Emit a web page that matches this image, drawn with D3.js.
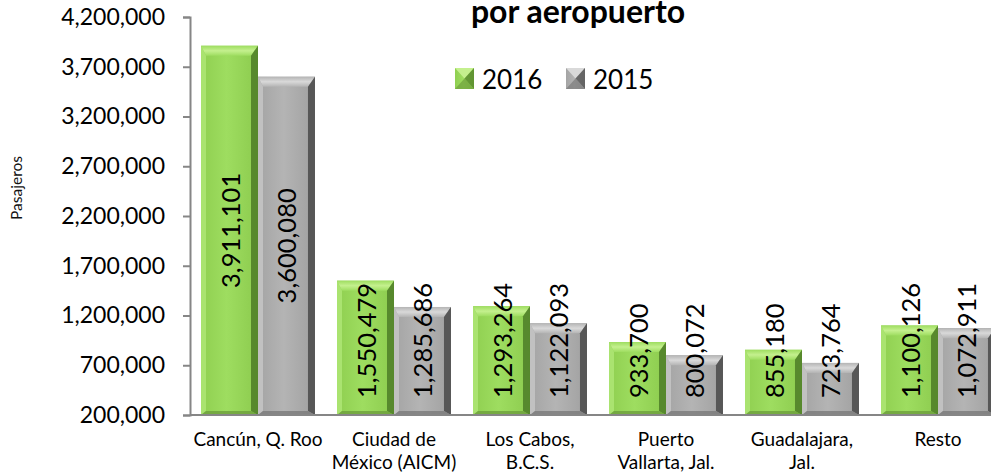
<!DOCTYPE html>
<html>
<head>
<meta charset="utf-8">
<script src="https://cdn.jsdelivr.net/npm/d3@7"></script>
<style>
  body { margin: 0; background: #fff; }
  svg { display: block; font-family: Lato, "Open Sans", sans-serif; }
</style>
</head>
<body>
<div id="chart"></div>
<script>
// datos
const categorias = ["Cancún, Q. Roo", "Ciudad de\nMéxico (AICM)", "Los Cabos,\nB.C.S.", "Puerto\nVallarta, Jal.", "Guadalajara,\nJal.", "Resto"]
const series = ["2016", "2015"]
const valores2016 = [3911101, 1550479, 1293264, 933700, 855180, 1100126]
const valores2015 = [3600080, 1285686, 1122093, 800072, 723764, 1072911]
const ticks = [200000, 700000, 1200000, 1700000, 2200000, 2700000, 3200000, 3700000, 4200000]

const width = 991
const height = 475
const margin = { top: 17, bottom: 60, left: 190, right: -15 }

const svg = d3.select("div#chart").append("svg").attr("width", width).attr("height", height)
const defs = svg.append("defs")

const estilos = {
    "2016": { face: ["#8fcf50", "#9edd60", "#8ccb4e"], top: "#c4f08e", left: "#b0e778", right: "#4e7d27", bottom: "#6d9f3c" },
    "2015": { face: ["#a4a4a4", "#b4b4b4", "#a0a0a0"], top: "#d9d9d9", left: "#c8c8c8", right: "#4a4a4a", bottom: "#7a7a7a" }
}
series.forEach(s => {
    const g = defs.append("linearGradient").attr("id", "face" + s).attr("x1", 0).attr("x2", 1).attr("y1", 0).attr("y2", 0)
    g.append("stop").attr("offset", "0%").attr("stop-color", estilos[s].face[0])
    g.append("stop").attr("offset", "45%").attr("stop-color", estilos[s].face[1])
    g.append("stop").attr("offset", "100%").attr("stop-color", estilos[s].face[2])
    const t = defs.append("linearGradient").attr("id", "top" + s).attr("x1", 0).attr("x2", 0).attr("y1", 0).attr("y2", 1)
    t.append("stop").attr("offset", "0%").attr("stop-color", estilos[s].face[1])
    t.append("stop").attr("offset", "50%").attr("stop-color", estilos[s].top)
    t.append("stop").attr("offset", "100%").attr("stop-color", estilos[s].face[1])
})

// escalas
const x = d3.scaleBand().domain(categorias).range([margin.left, width - margin.right]).paddingInner(0.162).paddingOuter(0.081)
const xs = d3.scaleBand().domain(series).range([0, x.bandwidth()])
const y = d3.scaleLinear().domain([200000, 4200000]).range([height - margin.bottom, margin.top])

const datos = []
categorias.forEach((c, i) => {
    datos.push({ cat: c, serie: "2016", valor: valores2016[i] })
    datos.push({ cat: c, serie: "2015", valor: valores2015[i] })
})

// barras con bisel
const barras = svg.append("g").selectAll("g").data(datos).join("g")
    .attr("transform", d => `translate(${x(d.cat) + xs(d.serie)}, ${y(d.valor)})`)

barras.each(function(d) {
    const g = d3.select(this)
    const w = xs.bandwidth()
    const h = y(200000) - y(d.valor)
    const b = 10, sl = 5, sr = 7, bb = 4
    const e = estilos[d.serie]
    g.append("rect").attr("width", w).attr("height", h).attr("fill", `url(#face${d.serie})`)
    g.append("path").attr("d", `M0,0 L${w},0 L${w - sr},${b} L${sl},${b} Z`).attr("fill", `url(#top${d.serie})`)
    g.append("path").attr("d", `M0,0 L${sl},${b} L${sl},${h - bb} L0,${h} Z`).attr("fill", e.left).attr("opacity", 0.8)
    g.append("path").attr("d", `M${w},0 L${w - sr},${b} L${w - sr},${h - bb} L${w},${h} Z`).attr("fill", e.right).attr("opacity", 0.85)
    g.append("path").attr("d", `M0,${h} L${sl},${h - bb} L${w - sr},${h - bb} L${w},${h} Z`).attr("fill", e.bottom).attr("opacity", 0.8)
})

// ejes
const yAxis = d3.axisLeft(y).tickValues(ticks).tickSize(7).tickPadding(18).tickFormat(d3.format(","))
const yAxisGroup = svg.append("g").attr("transform", `translate(${margin.left}, 0)`).call(yAxis)
yAxisGroup.select(".domain").attr("stroke", "#868686").attr("stroke-width", 2)
yAxisGroup.selectAll(".tick line").attr("stroke", "#868686").attr("stroke-width", 2)
yAxisGroup.selectAll(".tick text").attr("font-size", 23).attr("fill", "#000").attr("font-family", "Lato")

svg.append("line")
    .attr("x1", margin.left).attr("x2", width)
    .attr("y1", y(200000)).attr("y2", y(200000))
    .attr("stroke", "#868686").attr("stroke-width", 2)

// etiquetas de categorías
const catLabels = svg.append("g").selectAll("text").data(categorias).join("text")
    .attr("x", d => x(d) + x.bandwidth() / 2)
    .attr("y", 446)
    .attr("text-anchor", "middle")
    .attr("font-size", 19)
    .attr("fill", "#000")
catLabels.each(function(d) {
    d.split("\n").forEach((linea, i) => {
        d3.select(this).append("tspan")
            .attr("x", x(d) + x.bandwidth() / 2)
            .attr("dy", i === 0 ? 0 : 23)
            .text(linea)
    })
})

// etiquetas de datos (verticales)
const etiquetas = svg.append("g").selectAll("text").data(datos).join("text")
    .attr("font-size", 25.5)
    .attr("fill", "#000")
    .attr("text-anchor", "middle")
    .attr("dominant-baseline", "central")
    .text(d => d3.format(",")(d.valor))
etiquetas.attr("transform", function(d) {
    const len = this.getComputedTextLength()
    const cx = x(d.cat) + xs(d.serie) + xs.bandwidth() / 2
    const centro = (y(d.valor) + y(200000)) / 2
    const cy = Math.min(centro, 398 - len / 2)
    return `translate(${cx}, ${cy}) rotate(-90)`
})

// título del eje y
svg.append("text")
    .attr("transform", "translate(22, 188) rotate(-90)")
    .attr("text-anchor", "middle")
    .attr("font-size", 15.5)
    .attr("fill", "#111")
    .text("Pasajeros")

// título (parte visible)
svg.append("text")
    .attr("x", 578).attr("y", 23)
    .attr("text-anchor", "middle")
    .attr("font-size", 32)
    .attr("font-weight", "bold")
    .attr("fill", "#000")
    .text("por aeropuerto")

// leyenda
const leyenda = svg.append("g").selectAll("g").data(series).join("g")
    .attr("transform", (d, i) => `translate(${455 + i * 111}, 68)`)
leyenda.append("rect").attr("width", 19).attr("height", 21).attr("fill", d => `url(#face${d})`)
leyenda.append("path").attr("d", "M0,0 L19,0 L9.5,10.5 Z").attr("fill", d => estilos[d].top)
leyenda.append("path").attr("d", "M19,0 L19,21 L9.5,10.5 Z").attr("fill", d => estilos[d].right).attr("opacity", 0.7)
leyenda.append("path").attr("d", "M0,21 L19,21 L9.5,10.5 Z").attr("fill", d => estilos[d].bottom).attr("opacity", 0.7)
leyenda.append("text")
    .attr("x", 27).attr("y", 11)
    .attr("dominant-baseline", "central")
    .attr("font-size", 26)
    .attr("fill", "#000")
    .text(d => d)
</script>
</body>
</html>
